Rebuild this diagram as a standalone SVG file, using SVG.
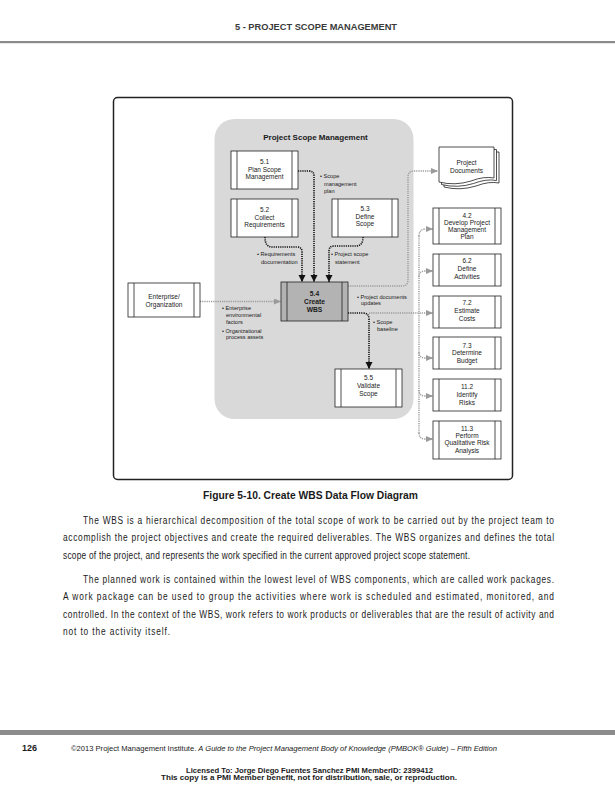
<svg xmlns="http://www.w3.org/2000/svg" width="615" height="800" viewBox="0 0 615 800">
<style>
text{font-family:"Liberation Sans",Arial,sans-serif;fill:#1a1a1a}
.bx{fill:#fff;stroke:#222;stroke-width:0.8}
.bar{stroke:#222;stroke-width:0.8}
.t{font-size:6.5px;text-anchor:middle}
.tb{font-size:6.7px;text-anchor:middle;font-weight:bold}
.lb{font-size:5.6px}
.blk{fill:none;stroke:#111;stroke-width:1.6;stroke-dasharray:1.2 1}
.gry{fill:none;stroke:#9a9a9a;stroke-width:1.4;stroke-dasharray:1.2 1}
.body{font-size:10.2px}
</style>
<defs>
<marker id="ab" markerUnits="userSpaceOnUse" markerWidth="8" markerHeight="8" refX="7" refY="3.5" orient="auto"><path d="M0,0 L7,3.5 L0,7 z" fill="#111"/></marker>
<marker id="ag" markerUnits="userSpaceOnUse" markerWidth="8" markerHeight="8" refX="7" refY="3" orient="auto"><path d="M0,0 L7,3 L0,6 z" fill="#9a9a9a"/></marker>
</defs>
<rect width="615" height="800" fill="#fff"/>
<!-- header -->
<text x="316" y="29.5" font-size="9.5" font-weight="bold" text-anchor="middle" textLength="162" lengthAdjust="spacingAndGlyphs" style="fill:#3a3a3a">5 - PROJECT SCOPE MANAGEMENT</text>
<rect x="0" y="41" width="615" height="2.2" fill="#8a8a8a"/>
<!-- frame -->
<rect x="113.5" y="97.5" width="399" height="382" rx="4" fill="#fff" stroke="#222" stroke-width="1.5"/>
<rect x="214.5" y="119" width="199" height="300" rx="20" fill="#d9d9d9"/>
<text x="315.5" y="140" font-size="8" font-weight="bold" text-anchor="middle">Project Scope Management</text>
<!-- connectors -->
<g id="connectors">
<path class="blk" d="M298,171 H309 Q314,171 314,176 V282" marker-end="url(#ab)"/>
<path class="blk" d="M265,237 Q265,247 272,247 H297 Q302,247 302,252 V282" marker-end="url(#ab)"/>
<path class="blk" d="M363,237 Q363,246 356,246 H334 Q329,246 329,251 V282" marker-end="url(#ab)"/>
<path class="gry" d="M200,301.5 H281" marker-end="url(#ag)"/>
<path class="gry" d="M348,286 H402 Q408,286 408,280 V177 Q408,171 414,171 H438" marker-end="url(#ag)"/>
<path class="blk" d="M348,313 H363 Q369,313 369,319 V369" marker-end="url(#ab)"/>
<path class="gry" d="M369,313 H433" marker-end="url(#ag)"/>
<path class="gry" d="M419,236 V433"/>
<path class="gry" d="M419,236 Q419,229 426,229 H433" marker-end="url(#ag)"/>
<path class="gry" d="M419,277 Q419,271 425,271 H433" marker-end="url(#ag)"/>
<path class="gry" d="M419,352 Q419,358 425,358 H433" marker-end="url(#ag)"/>
<path class="gry" d="M419,390 Q419,396 425,396 H433" marker-end="url(#ag)"/>
<path class="gry" d="M419,433 Q419,439 425,439 H433" marker-end="url(#ag)"/>
<text class="lb" x="320" y="177.5">• Scope</text>
<text class="lb" x="324" y="185.5">management</text>
<text class="lb" x="324" y="192.5">plan</text>
<text class="lb" x="257" y="256">• Requirements</text>
<text class="lb" x="261" y="264">documentation</text>
<text class="lb" x="331" y="256">• Project scope</text>
<text class="lb" x="335" y="264">statement</text>
<text class="lb" x="222" y="310">• Enterprise</text>
<text class="lb" x="226" y="316.5">environmental</text>
<text class="lb" x="226" y="324">factors</text>
<text class="lb" x="222" y="332.5">• Organizational</text>
<text class="lb" x="226" y="339">process assets</text>
<text class="lb" x="357" y="298.5">• Project documents</text>
<text class="lb" x="361" y="305">updates</text>
<text class="lb" x="373" y="324">• Scope</text>
<text class="lb" x="377" y="330.5">baseline</text>
</g>
<!-- nodes -->
<g id="n51"><rect class="bx" x="231" y="151" width="67" height="38"/><path class="bar" d="M237,151V189M292,151V189"/>
<text class="t" x="264.5" y="164">5.1</text><text class="t" x="264.5" y="171.5">Plan Scope</text><text class="t" x="264.5" y="179">Management</text></g>
<g id="n52"><rect class="bx" x="231" y="199" width="67" height="38"/><path class="bar" d="M237,199V237M292,199V237"/>
<text class="t" x="264.5" y="212">5.2</text><text class="t" x="264.5" y="219.5">Collect</text><text class="t" x="264.5" y="227">Requirements</text></g>
<g id="n53"><rect class="bx" x="332" y="199" width="66" height="38"/><path class="bar" d="M338,199V237M392,199V237"/>
<text class="t" x="365" y="211">5.3</text><text class="t" x="365" y="218.5">Define</text><text class="t" x="365" y="226">Scope</text></g>
<g id="n54"><rect x="281" y="282" width="67" height="39" fill="#b3b3b3" stroke="#222" stroke-width="0.8"/><path class="bar" d="M287,282V321M342,282V321"/>
<text class="tb" x="314.5" y="296">5.4</text><text class="tb" x="314.5" y="304">Create</text><text class="tb" x="314.5" y="311.5">WBS</text></g>
<g id="n55"><rect class="bx" x="335" y="369" width="67" height="38"/><path class="bar" d="M341,369V407M396,369V407"/>
<text class="t" x="368.5" y="380">5.5</text><text class="t" x="368.5" y="388">Validate</text><text class="t" x="368.5" y="396">Scope</text></g>
<g id="nent"><rect class="bx" x="128" y="283" width="72" height="34"/><path class="bar" d="M134,283V317M194,283V317"/>
<text class="t" x="164" y="298.5">Enterprise/</text><text class="t" x="164" y="306.5">Organization</text></g>
<g id="ndoc">
<path class="bx" d="M444,152 H499 V183 Q489,181 476,186 Q460,191 444,187 Z"/>
<path class="bx" d="M441.5,149.5 H496.5 V180.5 Q486.5,178.5 473.5,183.5 Q457.5,188.5 441.5,184.5 Z"/>
<path class="bx" d="M439,147 H494 V178 Q484,176 471,181 Q455,186 439,182 Z"/>
<text class="t" x="466.5" y="165">Project</text><text class="t" x="466.5" y="172.5">Documents</text></g>
<g id="n42"><rect class="bx" x="433" y="208" width="68" height="36"/><path class="bar" d="M439,208V244M495,208V244"/>
<text class="t" x="467" y="218">4.2</text><text class="t" x="467" y="225">Develop Project</text><text class="t" x="467" y="232">Management</text><text class="t" x="467" y="239">Plan</text></g>
<g id="n62"><rect class="bx" x="433" y="254" width="68" height="32"/><path class="bar" d="M439,254V286M495,254V286"/>
<text class="t" x="467" y="262.5">6.2</text><text class="t" x="467" y="270.5">Define</text><text class="t" x="467" y="279">Activities</text></g>
<g id="n72"><rect class="bx" x="433" y="296" width="68" height="32"/><path class="bar" d="M439,296V328M495,296V328"/>
<text class="t" x="467" y="305">7.2</text><text class="t" x="467" y="313">Estimate</text><text class="t" x="467" y="321">Costs</text></g>
<g id="n73"><rect class="bx" x="433" y="337" width="68" height="32"/><path class="bar" d="M439,337V369M495,337V369"/>
<text class="t" x="467" y="347.5">7.3</text><text class="t" x="467" y="355">Determine</text><text class="t" x="467" y="363">Budget</text></g>
<g id="n112"><rect class="bx" x="433" y="379" width="68" height="32"/><path class="bar" d="M439,379V411M495,379V411"/>
<text class="t" x="467" y="389">11.2</text><text class="t" x="467" y="397">Identify</text><text class="t" x="467" y="405">Risks</text></g>
<g id="n113"><rect class="bx" x="433" y="421" width="68" height="38"/><path class="bar" d="M439,421V459M495,421V459"/>
<text class="t" x="467" y="430.5">11.3</text><text class="t" x="467" y="437.5">Perform</text><text class="t" x="467" y="445">Qualitative Risk</text><text class="t" x="467" y="452.5">Analysis</text></g>
<!-- caption and body -->
<text x="203" y="499" font-size="10" font-weight="bold" textLength="215" lengthAdjust="spacingAndGlyphs">Figure 5-10. Create WBS Data Flow Diagram</text>
<g transform="scale(0.82,1)">
<text class="body" x="101.22" y="524" textLength="574.39" lengthAdjust="spacing">The WBS is a hierarchical decomposition of the total scope of work to be carried out by the project team to</text>
<text class="body" x="76.83" y="541.5" textLength="598.78" lengthAdjust="spacing">accomplish the project objectives and create the required deliverables. The WBS organizes and defines the total</text>
<text class="body" x="76.83" y="559" textLength="496.34" lengthAdjust="spacing">scope of the project, and represents the work specified in the current approved project scope statement.</text>
<text class="body" x="101.22" y="583" textLength="574.39" lengthAdjust="spacing">The planned work is contained within the lowest level of WBS components, which are called work packages.</text>
<text class="body" x="76.83" y="600.5" textLength="598.78" lengthAdjust="spacing">A work package can be used to group the activities where work is scheduled and estimated, monitored, and</text>
<text class="body" x="76.83" y="618" textLength="598.78" lengthAdjust="spacing">controlled. In the context of the WBS, work refers to work products or deliverables that are the result of activity and</text>
<text class="body" x="76.83" y="635.5" textLength="130.49" lengthAdjust="spacing">not to the activity itself.</text>
</g>
<!-- footer -->
<rect x="0" y="730" width="615" height="5" fill="#8c8c8c"/>
<text x="22" y="751" font-size="8.5" font-weight="bold" textLength="15" lengthAdjust="spacingAndGlyphs">126</text>
<text x="71" y="750.5" font-size="7.2" textLength="426" lengthAdjust="spacingAndGlyphs">©2013 Project Management Institute. <tspan font-style="italic">A Guide to the Project Management Body of Knowledge (PMBOK® Guide) – Fifth Edition</tspan></text>
<text x="309.5" y="773" font-size="7" font-weight="bold" text-anchor="middle" textLength="247" lengthAdjust="spacingAndGlyphs">Licensed To: Jorge Diego Fuentes Sanchez PMI MemberID: 2399412</text>
<text x="309" y="780" font-size="7" font-weight="bold" text-anchor="middle" textLength="296" lengthAdjust="spacingAndGlyphs">This copy is a PMI Member benefit, not for distribution, sale, or reproduction.</text>
</svg>
